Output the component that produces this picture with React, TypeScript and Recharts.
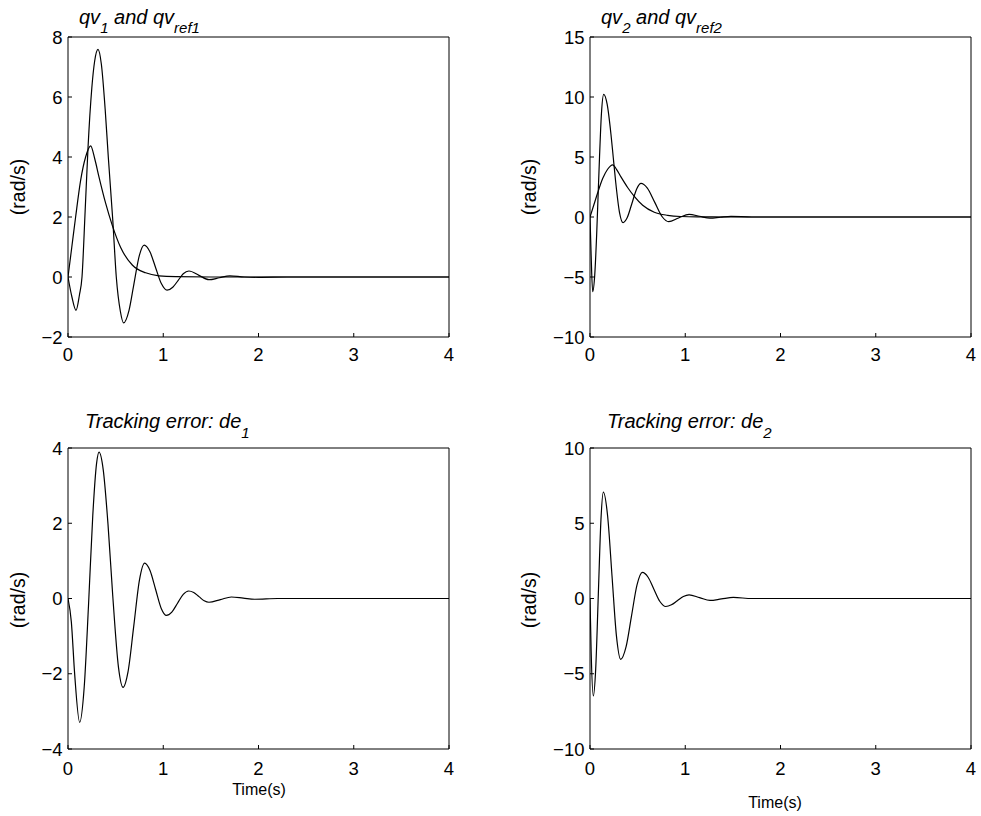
import React from 'react';
import { LineChart, Line, XAxis, YAxis } from 'recharts';

// ---------- data ----------
const timeTicks = [0, 1, 2, 3, 4];
const yTicksQv1 = [-2, 0, 2, 4, 6, 8];
const yTicksQv2 = [-10, -5, 0, 5, 10, 15];
const yTicksDe1 = [-4, -2, 0, 2, 4];
const yTicksDe2 = [-10, -5, 0, 5, 10];

const tRef = [0, 0.04, 0.08, 0.133, 0.185, 0.238, 0.28, 0.325, 0.395, 0.465, 0.553, 0.675, 0.815, 0.955, 1.13, 1.5, 4];
const qvRef1 = [0, 1.0, 2.0, 3.23, 4.0, 4.37, 3.95, 3.34, 2.46, 1.72, 0.98, 0.4, 0.14, 0.04, 0.01, 0, 0];
const qvRef2 = [0, 1.0, 2.0, 3.2, 3.98, 4.35, 3.95, 3.34, 2.46, 1.72, 0.98, 0.4, 0.14, 0.04, 0.01, 0, 0];

const tQv1 = [0, 0.04, 0.084, 0.12, 0.147, 0.18, 0.21, 0.25, 0.28, 0.315, 0.35, 0.39, 0.423, 0.47, 0.507, 0.55, 0.584, 0.64, 0.69, 0.75, 0.8, 0.86, 0.92, 0.98, 1.04, 1.1, 1.155, 1.21, 1.27, 1.375, 1.48, 1.59, 1.7, 1.85, 2.0, 2.3, 4];
const qv1 = [0, -0.65, -1.11, -0.6, 0, 2.2, 4.3, 6.3, 7.2, 7.59, 7.1, 5.6, 4.0, 1.9, 0, -1.15, -1.53, -1.12, -0.27, 0.73, 1.06, 0.84, 0.31, -0.22, -0.44, -0.34, -0.12, 0.11, 0.2, 0.055, -0.09, -0.025, 0.04, 0.0, -0.01, 0, 0];

const tQv2 = [0, 0.012, 0.028, 0.05, 0.07, 0.086, 0.1, 0.12, 0.144, 0.18, 0.22, 0.245, 0.27, 0.31, 0.347, 0.39, 0.44, 0.49, 0.536, 0.6, 0.68, 0.76, 0.826, 0.93, 1.04, 1.15, 1.26, 1.37, 1.48, 1.7, 4];
const qv2 = [0, -3.2, -6.22, -4.8, -1.45, 2.0, 5.0, 8.6, 10.22, 9.4, 6.9, 4.9, 2.9, 0.37, -0.47, -0.07, 1.13, 2.34, 2.8, 2.43, 1.22, 0.0, -0.39, -0.08, 0.22, 0.06, -0.1, -0.02, 0.05, 0, 0];

const tDe1 = [0, 0.035, 0.07, 0.1225, 0.17, 0.215, 0.26, 0.3, 0.3255, 0.37, 0.42, 0.47, 0.53, 0.578, 0.63, 0.69, 0.75, 0.805, 0.86, 0.92, 0.98, 1.033, 1.09, 1.15, 1.21, 1.267, 1.32, 1.375, 1.43, 1.48, 1.6, 1.715, 1.84, 1.96, 2.2, 4];
const de1 = [0, -0.62, -2.01, -3.29, -2.36, -0.2, 2.2, 3.59, 3.89, 3.42, 1.97, 0.065, -1.83, -2.36, -1.95, -0.74, 0.49, 0.94, 0.75, 0.24, -0.27, -0.45, -0.36, -0.125, 0.11, 0.2, 0.16, 0.05, -0.06, -0.1, -0.03, 0.04, 0.01, -0.02, 0, 0];

const tDe2 = [0, 0.012, 0.035, 0.06, 0.0875, 0.115, 0.14, 0.185, 0.231, 0.277, 0.322, 0.379, 0.436, 0.493, 0.55, 0.61, 0.672, 0.734, 0.795, 0.855, 0.917, 0.98, 1.04, 1.15, 1.26, 1.38, 1.505, 1.7, 4];
const de2 = [0, -3.5, -6.47, -4.66, 0.3, 5.24, 7.07, 5.48, 1.515, -2.45, -4.04, -3.2, -1.155, 0.885, 1.73, 1.41, 0.6, -0.2, -0.53, -0.42, -0.145, 0.13, 0.24, 0.055, -0.13, -0.03, 0.07, 0, 0];

// ---------- helpers ----------
const zip = (ts: number[], vs: number[]) => ts.map((t, i) => ({ t, v: vs[i] }));
const fmt = (v: number) => (v < 0 ? `\u2212${-v}` : `${v}`);
const FONT = '"Liberation Sans", Arial, Helvetica, sans-serif';

const YW = 60;
const MT = 10;
const MR = 8;
const XH = 40;

type PanelProps = {
  left: number;
  top: number;
  w: number;
  h: number;
  yDomain: [number, number];
  yTicks: number[];
  series: { t: number; v: number }[][];
  xGap: number;
};

function Panel({ left, top, w, h, yDomain, yTicks, series, xGap }: PanelProps) {
  const cw = YW + w + 1 + MR;
  const ch = MT + 1 + h + XH;
  const tickStyle = { fill: '#000', fontSize: 18.5, fontFamily: FONT };
  return (
    <div style={{ position: 'absolute', left: left - YW, top: top - MT - 1, width: cw, height: ch }}>
      <LineChart width={cw} height={ch} margin={{ top: MT, right: MR, bottom: 0, left: 0 }}>
        <XAxis
          xAxisId="b"
          dataKey="t"
          type="number"
          domain={[0, 4]}
          ticks={timeTicks}
          interval={0}
          allowDataOverflow
          height={XH}
          tickSize={-4}
          tickMargin={4 + xGap}
          stroke="#000"
          tick={tickStyle}
          tickFormatter={fmt}
        />
        <XAxis
          xAxisId="t"
          orientation="top"
          dataKey="t"
          type="number"
          domain={[0, 4]}
          ticks={timeTicks}
          interval={0}
          allowDataOverflow
          height={1}
          tickSize={-4}
          stroke="#000"
          tick={false}
        />
        <YAxis
          yAxisId="l"
          type="number"
          domain={yDomain}
          ticks={yTicks}
          interval={0}
          allowDataOverflow
          width={YW}
          tickSize={-4}
          tickMargin={9.5}
          stroke="#000"
          tick={tickStyle}
          tickFormatter={fmt}
        />
        <YAxis
          yAxisId="r"
          orientation="right"
          type="number"
          domain={yDomain}
          ticks={yTicks}
          interval={0}
          allowDataOverflow
          width={1}
          tickSize={-4}
          stroke="#000"
          tick={false}
        />
        {series.map((s, i) => (
          <Line
            key={i}
            xAxisId="b"
            yAxisId="l"
            data={s}
            dataKey="v"
            type="monotone"
            dot={false}
            activeDot={false}
            stroke="#000"
            strokeWidth={1.2}
            isAnimationActive={false}
          />
        ))}
      </LineChart>
    </div>
  );
}

export default function App() {
  const main = 20;
  const sub = 15;
  return (
    <div style={{ position: 'absolute', left: 0, top: 0, width: 981, height: 816, fontFamily: FONT, background: '#fff' }}>
      <Panel left={68} top={37} w={381} h={300} yDomain={[-2, 8]} yTicks={yTicksQv1}
        series={[zip(tQv1, qv1), zip(tRef, qvRef1)]} xGap={11} />
      <Panel left={590} top={37} w={381} h={300} yDomain={[-10, 15]} yTicks={yTicksQv2}
        series={[zip(tQv2, qv2), zip(tRef, qvRef2)]} xGap={11} />
      <Panel left={68} top={448} w={381} h={301} yDomain={[-4, 4]} yTicks={yTicksDe1}
        series={[zip(tDe1, de1)]} xGap={12.5} />
      <Panel left={590} top={448} w={381} h={301} yDomain={[-10, 10]} yTicks={yTicksDe2}
        series={[zip(tDe2, de2)]} xGap={12.5} />
      <svg
        width={981}
        height={816}
        style={{ position: 'absolute', left: 0, top: 0, pointerEvents: 'none', fontFamily: FONT }}
      >
        <text x={79} y={24} fontSize={main} fontStyle="italic" fill="#000">
          qv<tspan dy={9} fontSize={sub}>1</tspan>
          <tspan dy={-9}> and qv</tspan>
          <tspan dy={9} fontSize={sub}>ref1</tspan>
        </text>
        <text x={601} y={24} fontSize={main} fontStyle="italic" fill="#000">
          qv<tspan dy={9} fontSize={sub}>2</tspan>
          <tspan dy={-9}> and qv</tspan>
          <tspan dy={9} fontSize={sub}>ref2</tspan>
        </text>
        <text x={85} y={428} fontSize={main} fontStyle="italic" fill="#000">
          Tracking error: de<tspan dy={10} fontSize={sub}>1</tspan>
        </text>
        <text x={607} y={428} fontSize={main} fontStyle="italic" fill="#000">
          Tracking error: de<tspan dy={10} fontSize={sub}>2</tspan>
        </text>
        <text x={25} y={187} fontSize={19.5} textAnchor="middle" fill="#000" transform="rotate(-90, 25, 187)">
          (rad/s)
        </text>
        <text x={536} y={187} fontSize={19.5} textAnchor="middle" fill="#000" transform="rotate(-90, 536, 187)">
          (rad/s)
        </text>
        <text x={25} y={600} fontSize={19.5} textAnchor="middle" fill="#000" transform="rotate(-90, 25, 600)">
          (rad/s)
        </text>
        <text x={536} y={600} fontSize={19.5} textAnchor="middle" fill="#000" transform="rotate(-90, 536, 600)">
          (rad/s)
        </text>
        <text x={259} y={795} fontSize={16} textAnchor="middle" fill="#000">
          Time(s)
        </text>
        <text x={775} y={808} fontSize={16} textAnchor="middle" fill="#000">
          Time(s)
        </text>
      </svg>
    </div>
  );
}
